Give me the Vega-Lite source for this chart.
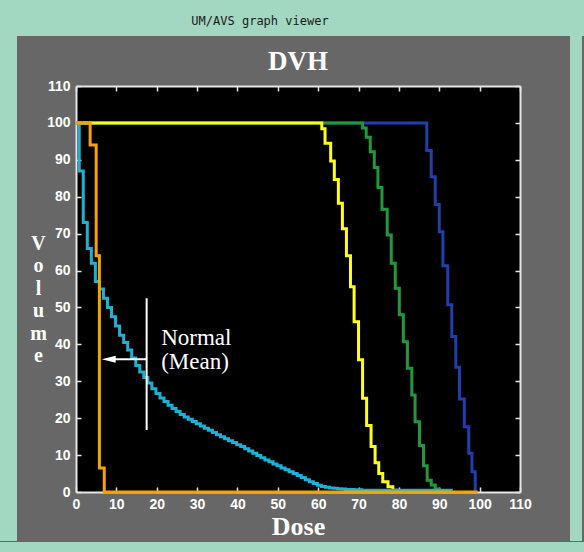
{
  "$schema": "https://vega.github.io/schema/vega-lite/v6.json",
  "background": "#676767",
  "padding": 0,
  "config": {
    "view": {"stroke": null},
    "axis": {
      "grid": false,
      "domainColor": "#e6e6e6",
      "domainWidth": 2,
      "tickColor": "#e6e6e6",
      "tickWidth": 1.5,
      "tickSize": -5,
      "labelColor": "white",
      "labelFont": "Liberation Sans",
      "labelFontSize": 14,
      "labelFontWeight": "bold",
      "labelPadding": 10,
      "labelFlush": false,
      "labelOverlap": false,
      "titleColor": "white",
      "titleFont": "Liberation Serif",
      "titleFontSize": 26,
      "titleFontWeight": "bold"
    },
    "axisLeft": {"labelPadding": 11}
  },
  "datasets": {
    "dvh": [
      {"series": "blue", "dose": 0, "volume": 100},
      {"series": "blue", "dose": 86.9, "volume": 92.5},
      {"series": "blue", "dose": 88.0, "volume": 85.4},
      {"series": "blue", "dose": 89.0, "volume": 77.9},
      {"series": "blue", "dose": 90.0, "volume": 70.5},
      {"series": "blue", "dose": 90.9, "volume": 61.3},
      {"series": "blue", "dose": 92.1, "volume": 50.7},
      {"series": "blue", "dose": 93.1, "volume": 42.1},
      {"series": "blue", "dose": 94.1, "volume": 33.8},
      {"series": "blue", "dose": 95.0, "volume": 25.2},
      {"series": "blue", "dose": 96.2, "volume": 17.7},
      {"series": "blue", "dose": 97.3, "volume": 10.5},
      {"series": "blue", "dose": 98.1, "volume": 5.5},
      {"series": "blue", "dose": 98.9, "volume": 0},
      {"series": "green", "dose": 0, "volume": 100},
      {"series": "green", "dose": 71.0, "volume": 98.6},
      {"series": "green", "dose": 71.9, "volume": 96.1},
      {"series": "green", "dose": 72.9, "volume": 92.2},
      {"series": "green", "dose": 73.9, "volume": 87.9},
      {"series": "green", "dose": 74.8, "volume": 82.5},
      {"series": "green", "dose": 75.8, "volume": 76.6},
      {"series": "green", "dose": 77.1, "volume": 69.6},
      {"series": "green", "dose": 78.1, "volume": 62.0},
      {"series": "green", "dose": 79.1, "volume": 55.2},
      {"series": "green", "dose": 80.1, "volume": 48.0},
      {"series": "green", "dose": 81.1, "volume": 40.7},
      {"series": "green", "dose": 82.1, "volume": 33.5},
      {"series": "green", "dose": 83.2, "volume": 26.3},
      {"series": "green", "dose": 84.0, "volume": 19.0},
      {"series": "green", "dose": 85.1, "volume": 12.6},
      {"series": "green", "dose": 86.1, "volume": 7.1},
      {"series": "green", "dose": 87.0, "volume": 3.2},
      {"series": "green", "dose": 88.0, "volume": 1.9},
      {"series": "green", "dose": 89.0, "volume": 0.8},
      {"series": "green", "dose": 90.0, "volume": 0.3},
      {"series": "green", "dose": 91.5, "volume": 0},
      {"series": "yellow", "dose": 0, "volume": 100},
      {"series": "yellow", "dose": 60.9, "volume": 98.4},
      {"series": "yellow", "dose": 61.7, "volume": 94.5},
      {"series": "yellow", "dose": 63.1, "volume": 89.7},
      {"series": "yellow", "dose": 64.0, "volume": 84.7},
      {"series": "yellow", "dose": 65.0, "volume": 78.2},
      {"series": "yellow", "dose": 66.0, "volume": 71.3},
      {"series": "yellow", "dose": 67.0, "volume": 64.0},
      {"series": "yellow", "dose": 68.0, "volume": 55.6},
      {"series": "yellow", "dose": 68.9, "volume": 46.1},
      {"series": "yellow", "dose": 70.0, "volume": 35.8},
      {"series": "yellow", "dose": 71.0, "volume": 25.4},
      {"series": "yellow", "dose": 72.0, "volume": 18.0},
      {"series": "yellow", "dose": 73.1, "volume": 12.3},
      {"series": "yellow", "dose": 74.1, "volume": 7.9},
      {"series": "yellow", "dose": 75.0, "volume": 5.0},
      {"series": "yellow", "dose": 76.0, "volume": 2.8},
      {"series": "yellow", "dose": 77.3, "volume": 1.4},
      {"series": "yellow", "dose": 78.5, "volume": 0.5},
      {"series": "yellow", "dose": 79.5, "volume": 0},
      {"series": "cyan", "dose": 0, "volume": 100},
      {"series": "cyan", "dose": 0.8, "volume": 87},
      {"series": "cyan", "dose": 1.8, "volume": 73},
      {"series": "cyan", "dose": 2.8, "volume": 66},
      {"series": "cyan", "dose": 3.8, "volume": 62},
      {"series": "cyan", "dose": 4.8, "volume": 57},
      {"series": "cyan", "dose": 5.8, "volume": 55},
      {"series": "cyan", "dose": 6.8, "volume": 52.5},
      {"series": "cyan", "dose": 7.8, "volume": 50},
      {"series": "cyan", "dose": 8.8, "volume": 47.5},
      {"series": "cyan", "dose": 9.8, "volume": 45},
      {"series": "cyan", "dose": 10.8, "volume": 42.5},
      {"series": "cyan", "dose": 11.8, "volume": 40.5},
      {"series": "cyan", "dose": 12.8, "volume": 38.5},
      {"series": "cyan", "dose": 13.8, "volume": 36.3},
      {"series": "cyan", "dose": 14.8, "volume": 34.3},
      {"series": "cyan", "dose": 15.8, "volume": 32.5},
      {"series": "cyan", "dose": 16.8, "volume": 31},
      {"series": "cyan", "dose": 17.8, "volume": 29.5},
      {"series": "cyan", "dose": 18.8, "volume": 28},
      {"series": "cyan", "dose": 19.8, "volume": 26.7},
      {"series": "cyan", "dose": 20.8, "volume": 25.5},
      {"series": "cyan", "dose": 21.8, "volume": 24.5},
      {"series": "cyan", "dose": 22.8, "volume": 23.5},
      {"series": "cyan", "dose": 23.8, "volume": 22.6},
      {"series": "cyan", "dose": 24.8, "volume": 21.8},
      {"series": "cyan", "dose": 25.8, "volume": 21},
      {"series": "cyan", "dose": 26.8, "volume": 20.3},
      {"series": "cyan", "dose": 27.8, "volume": 19.7},
      {"series": "cyan", "dose": 28.8, "volume": 19.1},
      {"series": "cyan", "dose": 29.8, "volume": 18.5},
      {"series": "cyan", "dose": 30.8, "volume": 17.9},
      {"series": "cyan", "dose": 31.8, "volume": 17.3},
      {"series": "cyan", "dose": 32.8, "volume": 16.7},
      {"series": "cyan", "dose": 33.8, "volume": 16.1},
      {"series": "cyan", "dose": 34.8, "volume": 15.5},
      {"series": "cyan", "dose": 35.8, "volume": 15},
      {"series": "cyan", "dose": 36.8, "volume": 14.4},
      {"series": "cyan", "dose": 37.8, "volume": 13.9},
      {"series": "cyan", "dose": 38.8, "volume": 13.4},
      {"series": "cyan", "dose": 39.8, "volume": 12.8},
      {"series": "cyan", "dose": 40.8, "volume": 12.3},
      {"series": "cyan", "dose": 41.8, "volume": 11.7},
      {"series": "cyan", "dose": 42.8, "volume": 11.1},
      {"series": "cyan", "dose": 43.8, "volume": 10.5},
      {"series": "cyan", "dose": 44.8, "volume": 9.9},
      {"series": "cyan", "dose": 45.8, "volume": 9.3},
      {"series": "cyan", "dose": 46.8, "volume": 8.7},
      {"series": "cyan", "dose": 47.8, "volume": 8.2},
      {"series": "cyan", "dose": 48.8, "volume": 7.6},
      {"series": "cyan", "dose": 49.8, "volume": 7.1},
      {"series": "cyan", "dose": 50.8, "volume": 6.5},
      {"series": "cyan", "dose": 51.8, "volume": 6},
      {"series": "cyan", "dose": 52.8, "volume": 5.5},
      {"series": "cyan", "dose": 53.8, "volume": 5},
      {"series": "cyan", "dose": 54.8, "volume": 4.5},
      {"series": "cyan", "dose": 55.8, "volume": 3.9},
      {"series": "cyan", "dose": 56.8, "volume": 3.3},
      {"series": "cyan", "dose": 57.8, "volume": 2.8},
      {"series": "cyan", "dose": 58.8, "volume": 2.3},
      {"series": "cyan", "dose": 59.8, "volume": 1.8},
      {"series": "cyan", "dose": 60.8, "volume": 1.5},
      {"series": "cyan", "dose": 61.8, "volume": 1.3},
      {"series": "cyan", "dose": 62.8, "volume": 1.1},
      {"series": "cyan", "dose": 63.8, "volume": 1.0},
      {"series": "cyan", "dose": 64.8, "volume": 0.9},
      {"series": "cyan", "dose": 65.8, "volume": 0.8},
      {"series": "cyan", "dose": 66.8, "volume": 0.7},
      {"series": "cyan", "dose": 68.8, "volume": 0.6},
      {"series": "cyan", "dose": 70.8, "volume": 0.5},
      {"series": "cyan", "dose": 93, "volume": 0.4},
      {"series": "orange", "dose": 0, "volume": 100},
      {"series": "orange", "dose": 3.5, "volume": 94},
      {"series": "orange", "dose": 5.0, "volume": 64},
      {"series": "orange", "dose": 5.8, "volume": 6.5},
      {"series": "orange", "dose": 7.0, "volume": 0},
      {"series": "orange", "dose": 99.5, "volume": 0}
    ],
    "ann": [
      {"x": 17.5, "x2": 17.5, "y": 16.8, "y2": 52.5},
      {"x": 17.5, "x2": 9.5, "y": 36, "y2": 36}
    ],
    "head": [{"x": 8.1, "y": 36}],
    "notes": [
      {"x": 21.1, "y": 39.8, "t": "Normal"},
      {"x": 21.1, "y": 33.3, "t": "(Mean)"}
    ]
  },
  "spacing": 0,
  "vconcat": [
    {
      "width": 584,
      "height": 36,
      "view": {"fill": "#a2d8c2", "stroke": null},
      "data": {"values": [{"t": "UM/AVS graph viewer"}]},
      "mark": {"type": "text", "font": "DejaVu Sans Mono", "fontSize": 12, "color": "#1a1a1a", "dy": 3, "dx": -32},
      "encoding": {"text": {"field": "t"}}
    },
    {
      "spacing": 38,
      "hconcat": [
        {
          "spacing": 12,
          "hconcat": [
            {
              "width": 17,
              "height": 505,
              "view": {"fill": "#a2d8c2", "stroke": null},
              "data": {"values": [{"t": ""}]},
              "mark": "text",
              "encoding": {"text": {"field": "t"}}
            },
            {
              "spacing": 0,
              "vconcat": [
                {
                  "width": 1,
                  "height": 12,
                  "data": {"values": [{"t": ""}]},
                  "mark": "text",
                  "encoding": {"text": {"field": "t"}}
                },
                {
                  "width": 444,
                  "height": 406,
                  "view": {"fill": "black", "stroke": null},
                  "title": {"text": "DVH", "font": "Liberation Serif", "fontSize": 27, "fontWeight": "bold", "color": "white", "offset": 3},
                  "resolve": {"axis": {"x": "independent", "y": "independent"}},
                  "layer": [
                    {
                      "data": {"name": "dvh"},
                      "transform": [{"filter": "datum.series === 'blue'"}],
                      "mark": {"type": "line", "interpolate": "step-after", "color": "#1f3fae", "strokeWidth": 3},
                      "encoding": {
                        "x": {"field": "dose", "type": "quantitative", "scale": {"domain": [0, 110], "nice": false, "zero": false},
                          "axis": {"orient": "bottom", "values": [0, 10, 20, 30, 40, 50, 60, 70, 80, 90, 100, 110], "title": "Dose", "titlePadding": 2}},
                        "y": {"field": "volume", "type": "quantitative", "scale": {"domain": [0, 110], "nice": false, "zero": false},
                          "axis": {"orient": "left", "values": [0, 10, 20, 30, 40, 50, 60, 70, 80, 90, 100, 110], "title": ["V", "o", "l", "u", "m", "e"], "titleAngle": 0, "titleX": -38, "titleY": 157, "titleAlign": "center", "titleBaseline": "middle", "titleLineHeight": 22.5, "titleFontSize": 20}}
                      }
                    },
                    {
                      "data": {"name": "dvh"},
                      "transform": [{"filter": "datum.series === 'green'"}],
                      "mark": {"type": "line", "interpolate": "step-after", "color": "#1f9a3a", "strokeWidth": 3},
                      "encoding": {
                        "x": {"field": "dose", "type": "quantitative", "scale": {"domain": [0, 110], "nice": false, "zero": false},
                          "axis": {"orient": "top", "values": [0, 10, 20, 30, 40, 50, 60, 70, 80, 90, 100, 110], "labels": false, "title": null}},
                        "y": {"field": "volume", "type": "quantitative", "scale": {"domain": [0, 110], "nice": false, "zero": false},
                          "axis": {"orient": "right", "values": [0, 10, 20, 30, 40, 50, 60, 70, 80, 90, 100, 110], "labels": false, "title": null}}
                      }
                    },
                    {
                      "data": {"name": "dvh"},
                      "transform": [{"filter": "datum.series === 'yellow'"}],
                      "mark": {"type": "line", "interpolate": "step-after", "color": "#ffff1a", "strokeWidth": 3},
                      "encoding": {
                        "x": {"field": "dose", "type": "quantitative", "scale": {"domain": [0, 110], "nice": false, "zero": false}, "axis": null},
                        "y": {"field": "volume", "type": "quantitative", "scale": {"domain": [0, 110], "nice": false, "zero": false}, "axis": null}
                      }
                    },
                    {
                      "data": {"name": "dvh"},
                      "transform": [{"filter": "datum.series === 'cyan'"}],
                      "mark": {"type": "line", "interpolate": "step-after", "color": "#1fb0d6", "strokeWidth": 3},
                      "encoding": {
                        "x": {"field": "dose", "type": "quantitative", "scale": {"domain": [0, 110], "nice": false, "zero": false}, "axis": null},
                        "y": {"field": "volume", "type": "quantitative", "scale": {"domain": [0, 110], "nice": false, "zero": false}, "axis": null}
                      }
                    },
                    {
                      "data": {"name": "dvh"},
                      "transform": [{"filter": "datum.series === 'orange'"}],
                      "mark": {"type": "line", "interpolate": "step-after", "color": "#f5a300", "strokeWidth": 3},
                      "encoding": {
                        "x": {"field": "dose", "type": "quantitative", "scale": {"domain": [0, 110], "nice": false, "zero": false}, "axis": null},
                        "y": {"field": "volume", "type": "quantitative", "scale": {"domain": [0, 110], "nice": false, "zero": false}, "axis": null}
                      }
                    },
                    {
                      "data": {"name": "ann"},
                      "mark": {"type": "rule", "color": "white", "strokeWidth": 2},
                      "encoding": {
                        "x": {"field": "x", "type": "quantitative", "scale": {"domain": [0, 110], "nice": false, "zero": false}, "axis": null},
                        "x2": {"field": "x2"},
                        "y": {"field": "y", "type": "quantitative", "scale": {"domain": [0, 110], "nice": false, "zero": false}, "axis": null},
                        "y2": {"field": "y2"}
                      }
                    },
                    {
                      "data": {"name": "head"},
                      "mark": {"type": "point", "shape": "M -1 0 L 1 -0.5 L 1 0.5 Z", "size": 196, "filled": true, "color": "white", "opacity": 1, "strokeWidth": 0},
                      "encoding": {
                        "x": {"field": "x", "type": "quantitative", "scale": {"domain": [0, 110], "nice": false, "zero": false}, "axis": null},
                        "y": {"field": "y", "type": "quantitative", "scale": {"domain": [0, 110], "nice": false, "zero": false}, "axis": null}
                      }
                    },
                    {
                      "data": {"name": "notes"},
                      "mark": {"type": "text", "align": "left", "baseline": "alphabetic", "font": "Liberation Serif", "fontSize": 23, "color": "white"},
                      "encoding": {
                        "x": {"field": "x", "type": "quantitative", "scale": {"domain": [0, 110], "nice": false, "zero": false}, "axis": null},
                        "y": {"field": "y", "type": "quantitative", "scale": {"domain": [0, 110], "nice": false, "zero": false}, "axis": null},
                        "text": {"field": "t"}
                      }
                    }
                  ]
                }
              ]
            }
          ]
        },
        {
          "width": 12,
          "height": 505,
          "view": {"fill": "#a2d8c2", "stroke": null},
          "data": {"values": [{"t": ""}]},
          "mark": "text",
          "encoding": {"text": {"field": "t"}}
        }
      ]
    },
    {
      "width": 584,
      "height": 11,
      "view": {"fill": "#a2d8c2", "stroke": null},
      "data": {"values": [{"t": ""}]},
      "mark": "text",
      "encoding": {"text": {"field": "t"}}
    }
  ]
}
